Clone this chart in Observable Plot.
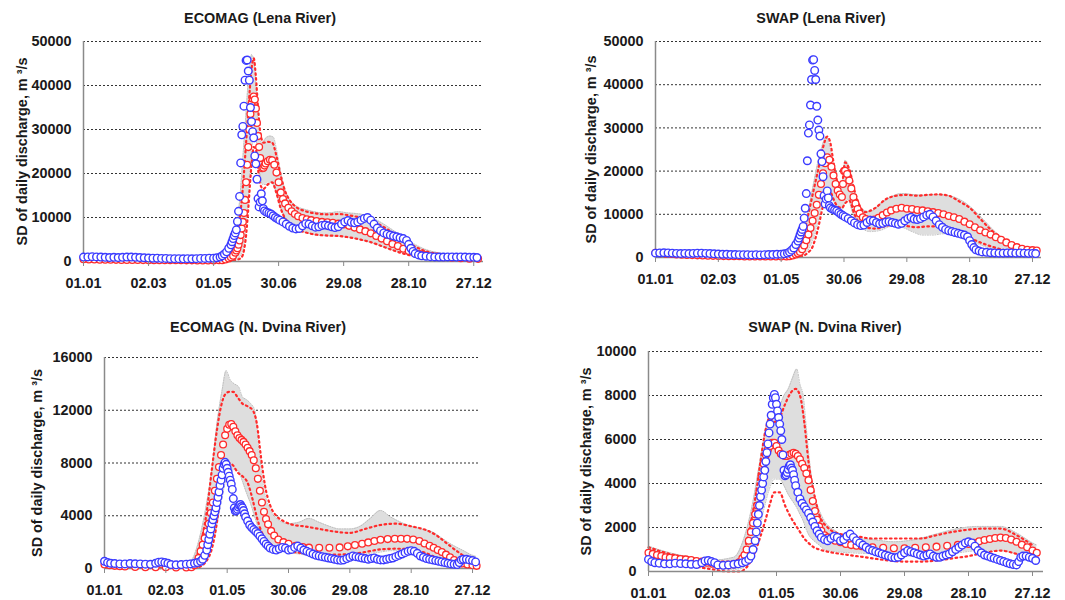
<!DOCTYPE html>
<html><head><meta charset="utf-8">
<script src="https://cdn.jsdelivr.net/npm/d3@7"></script>
<script src="https://cdn.jsdelivr.net/npm/@observablehq/plot@0.6"></script>
<style>
body{margin:0;background:#fff;font-family:"Liberation Sans",Arial,sans-serif;}
#wrap{position:relative;width:1065px;height:600px;overflow:hidden;background:#fff;}
.title{position:absolute;font-weight:bold;font-size:14.4px;line-height:14.4px;white-space:nowrap;transform:translateX(-50%);color:#1a1a1a;}
</style></head><body><div id="wrap"></div>
<script>
// ---- x axis (day of year, 0 = 01.01) ----
const dateTicks = [0, 60, 120, 180, 240, 300, 360];
const dateLabels = ["01.01", "02.03", "01.05", "30.06", "29.08", "28.10", "27.12"];
const yTicksLena = [0, 10000, 20000, 30000, 40000, 50000];
const yTicksDvinaEco = [0, 4000, 8000, 12000, 16000];
const yTicksDvinaSwap = [0, 2000, 4000, 6000, 8000, 10000];
const yLabel = "SD of daily discharge, m \u00B3/s";

// ---- observed SD (blue circles), [day, value] ----
const obsLena = [[0,1000],[4,1050],[8,1100],[12,1050],[16,1000],[20,950],[24,900],[28,950],[32,900],[36,950],[40,1000],[44,1000],[48,950],[52,900],[56,850],[60,800],[64,750],[68,750],[72,700],[76,700],[80,650],[84,650],[88,650],[92,600],[96,650],[100,600],[104,650],[108,700],[112,700],[116,750],[120,750],[123,850],[126,1000],[128,1300],[130,1700],[132,2200],[134,3000],[136,3800],[137,4500],[138,5200],[139,5900],[140,6500],[141,7200],[142,9100],[143,11400],[144,14800],[145,22400],[146,28800],[147,30700],[148,35300],[149,41200],[150,45700],[151,45800],[152,43300],[153,41200],[154,35000],[155,31800],[156,29500],[157,28100],[158,24000],[159,22200],[160,18700],[161,14300],[162,12400],[163,13500],[164,15400],[165,13800],[166,12000],[167,11500],[169,11200],[171,11000],[173,10800],[175,10400],[177,10000],[179,9700],[181,9400],[184,9000],[187,8500],[190,8000],[193,7600],[196,7400],[199,7500],[202,8100],[205,8600],[208,8500],[211,8100],[214,7800],[217,7900],[220,8200],[223,8300],[226,8100],[229,7900],[232,7700],[235,7900],[238,8500],[241,9000],[244,9300],[247,8900],[250,8800],[253,9000],[256,9400],[259,9800],[262,10000],[265,9400],[268,8500],[271,7600],[274,7000],[277,6500],[280,6200],[283,6000],[286,5800],[289,5600],[292,5400],[295,5200],[298,4800],[300,3900],[302,3000],[304,2300],[306,1800],[309,1500],[312,1300],[316,1200],[320,1100],[324,1050],[328,1000],[332,1000],[336,1050],[340,1050],[344,1000],[348,1050],[352,1000],[356,950],[360,950],[363,900]];

const obsDvina = [[0,550],[3,450],[6,400],[10,380],[15,350],[20,350],[25,380],[30,360],[35,350],[40,330],[45,320],[50,400],[53,480],[56,500],[59,450],[62,400],[65,300],[70,280],[75,300],[80,330],[84,350],[88,400],[91,450],[94,550],[96,700],[98,1000],[100,1400],[101,1800],[102,2200],[103,2600],[104,3000],[105,3400],[106,3700],[107,4000],[108,4300],[109,4600],[110,5000],[111,5400],[112,5800],[113,6300],[114,6700],[115,7100],[116,7600],[117,7900],[118,8050],[119,7900],[120,7600],[121,7300],[122,7000],[123,6700],[124,6400],[125,6000],[126,5300],[127,4600],[128,4350],[129,4400],[130,4500],[131,4650],[132,4800],[133,4850],[134,4700],[135,4600],[136,4400],[137,4150],[138,3900],[140,3600],[142,3300],[144,3100],[146,2950],[148,2800],[150,2650],[152,2450],[154,2250],[156,2050],[158,1850],[160,1700],[162,1550],[165,1450],[168,1400],[171,1500],[174,1600],[177,1550],[180,1400],[183,1450],[186,1600],[189,1700],[192,1550],[195,1400],[198,1300],[201,1200],[204,1100],[207,1000],[210,950],[213,900],[216,850],[219,800],[222,750],[225,700],[228,650],[231,620],[234,650],[237,750],[240,850],[243,950],[246,900],[249,850],[252,800],[255,750],[258,700],[261,750],[264,800],[267,700],[270,650],[273,650],[276,700],[279,750],[282,800],[285,900],[288,1000],[291,1100],[294,1200],[297,1300],[300,1350],[303,1300],[306,1150],[309,950],[312,850],[315,750],[318,700],[321,650],[324,600],[327,550],[330,500],[333,450],[336,400],[339,350],[342,320],[345,300],[347,450],[349,650],[351,700],[354,700],[357,650],[360,600],[363,500]];

// ---- ensemble mean SD (red circles), [day, value] ----
const meanEcoLena = [[0,500],[5,470],[10,450],[15,420],[20,400],[25,390],[30,380],[35,360],[40,350],[45,340],[50,330],[55,320],[60,300],[65,300],[70,300],[75,290],[80,280],[85,275],[90,270],[95,265],[100,260],[105,255],[110,250],[115,250],[120,250],[125,270],[128,300],[131,450],[134,700],[136,950],[138,1300],[140,2000],[141,2500],[142,3000],[143,3800],[144,4800],[145,6000],[146,7500],[147,9000],[148,11000],[149,14000],[150,18000],[151,22000],[152,26000],[153,30000],[154,33500],[155,35800],[156,37000],[157,37500],[158,36800],[159,34800],[160,31500],[161,28500],[162,26000],[163,23500],[164,22000],[165,21200],[166,21300],[167,21800],[168,22300],[170,22800],[172,23100],[174,23000],[176,22000],[178,20200],[180,18000],[182,15700],[184,14200],[186,13200],[189,12200],[192,11400],[195,10800],[198,10300],[202,9900],[206,9600],[210,9400],[215,9200],[220,9000],[225,8900],[230,8800],[235,8600],[240,8400],[245,8100],[250,7700],[255,7300],[260,6900],[265,6400],[270,5800],[275,5200],[280,4600],[285,4000],[290,3500],[295,2900],[300,2400],[305,2000],[310,1700],[315,1450],[320,1250],[326,1100],[332,950],[340,850],[348,750],[356,650],[364,600]];

const meanSwapLena = [[0,1100],[5,1000],[10,900],[15,800],[20,700],[25,650],[30,600],[35,550],[40,500],[45,450],[50,400],[55,380],[60,350],[65,320],[70,300],[75,290],[80,280],[85,260],[90,250],[95,240],[100,230],[105,220],[110,220],[115,220],[120,230],[125,260],[128,300],[131,450],[134,700],[136,950],[138,1300],[140,1900],[142,2800],[144,4000],[146,5300],[148,6800],[150,8500],[152,10300],[154,12200],[156,14500],[158,17000],[160,19500],[162,21800],[164,23200],[166,22600],[168,21000],[170,19000],[172,17000],[174,15500],[176,14600],[178,14000],[179,17000],[180,20000],[181,20100],[183,19300],[185,17800],[187,16000],[189,14000],[191,12500],[193,11200],[195,10200],[198,9300],[201,8900],[205,8700],[209,8800],[213,9200],[217,9800],[221,10400],[225,10900],[230,11300],[235,11500],[240,11300],[245,11200],[250,11000],[255,10900],[260,10700],[265,10500],[270,10300],[275,10000],[280,9600],[285,9300],[290,8900],[295,8300],[300,7700],[305,7000],[310,6300],[315,5800],[320,5300],[325,4700],[330,4100],[335,3500],[340,2900],[345,2400],[350,2000],[355,1800],[360,1700],[364,1600]];

const meanEcoDvina = [[0,300],[5,250],[10,200],[15,170],[20,150],[30,120],[40,100],[50,100],[60,90],[70,80],[80,80],[85,100],[88,250],[90,450],[92,800],[94,1300],[96,1800],[98,2300],[100,2800],[102,3400],[104,4200],[106,5000],[108,5900],[110,6800],[112,7700],[114,8600],[116,9400],[118,10100],[120,10600],[122,10900],[124,10950],[126,10750],[128,10400],[130,10100],[132,9900],[134,9750],[136,9600],[138,9400],[140,9150],[142,8900],[144,8600],[146,8200],[148,7600],[150,6800],[152,5900],[154,5000],[156,4300],[158,3750],[160,3350],[163,2850],[166,2500],[170,2200],[175,2000],[180,1870],[187,1720],[194,1630],[200,1580],[210,1570],[220,1570],[230,1600],[238,1680],[245,1780],[252,1880],[258,1980],[264,2080],[270,2180],[277,2230],[284,2260],[290,2260],[296,2250],[302,2200],[308,2080],[313,1900],[318,1720],[322,1570],[326,1400],[330,1250],[334,1050],[338,850],[342,650],[346,480],[350,380],[355,300],[360,250],[364,200]];

const meanSwapDvina = [[0,850],[4,800],[8,750],[12,700],[16,650],[20,620],[25,600],[30,570],[35,550],[40,520],[45,480],[50,450],[55,400],[60,350],[65,300],[70,270],[75,280],[80,320],[85,420],[88,600],[90,750],[92,1000],[94,1400],[96,1800],[98,2200],[100,2600],[102,3000],[104,3600],[106,4300],[108,4900],[110,5300],[112,5550],[114,5700],[116,5850],[118,5850],[120,5700],[122,5500],[124,5350],[126,5300],[128,5250],[130,5250],[132,5300],[134,5350],[136,5400],[138,5350],[140,5250],[142,5100],[144,4900],[146,4700],[148,4450],[150,4150],[152,3700],[154,3200],[156,2750],[158,2350],[160,2050],[162,1850],[165,1650],[168,1550],[171,1480],[175,1400],[180,1330],[185,1250],[190,1200],[195,1170],[200,1150],[210,1100],[220,1080],[230,1060],[240,1060],[250,1080],[260,1100],[270,1130],[280,1170],[290,1210],[300,1250],[305,1300],[310,1370],[315,1430],[320,1480],[325,1520],[330,1540],[335,1520],[340,1450],[345,1350],[350,1220],[355,1100],[360,950],[364,850]];

// ---- ensemble spread (grey band), [day, low, high] ----
const bandEcoLena = [[0,100,1300],[30,100,1200],[60,80,1000],[90,60,900],[120,60,900],[130,150,1800],[135,300,3000],[140,500,6000],[143,900,11000],[146,2000,20000],[148,4000,27000],[150,9000,34000],[152,15000,41000],[154,22000,45500],[155,25000,47000],[157,29000,46000],[159,28000,40000],[161,24000,32000],[163,19500,27500],[165,17500,27000],[168,17500,28000],[172,18000,28500],[175,17500,28300],[178,15500,25500],[181,13000,21500],[184,11000,18000],[188,9300,15000],[192,8300,13500],[197,7400,12500],[205,6600,11800],[215,6000,11200],[225,5800,11000],[235,5700,11300],[245,5500,11000],[255,5000,10800],[265,4300,10000],[275,3500,8800],[285,2600,7200],[295,1900,5600],[305,1200,4000],[315,800,2800],[325,600,2100],[340,400,1600],[355,300,1300],[364,250,1200]];
const bandSwapLena = [[0,700,1500],[30,400,1000],[60,200,700],[90,150,550],[120,100,500],[130,150,900],[135,300,2000],[140,500,5000],[145,1500,10000],[150,4000,16000],[155,8000,22000],[160,13000,26500],[163,15000,28000],[166,15000,26000],[170,13000,21000],[174,11500,17500],[178,11000,17000],[181,13000,22500],[184,13500,21500],[188,10500,17500],[192,8500,13800],[197,6800,11200],[205,6000,10600],[215,6300,12500],[225,7200,14000],[235,7000,14800],[245,6000,14600],[255,5200,14400],[265,5200,14600],[275,5500,14500],[285,5400,14000],[295,4500,12800],[305,3500,10800],[315,2500,8300],[325,1800,5800],[335,1200,4000],[345,900,2800],[355,800,2100],[364,800,1800]];
const bandEcoDvina = [[0,100,700],[30,30,450],[60,20,450],[85,20,650],[90,50,1500],[95,200,3000],[100,700,5000],[105,1800,7500],[110,3400,11000],[115,5400,13500],[119,6800,15000],[123,7400,14300],[127,7500,14000],[131,7400,13800],[135,6600,13000],[139,5700,12800],[143,4900,12500],[147,3900,12000],[151,3000,9000],[156,2400,6000],[162,1900,4500],[170,1500,3700],[180,1250,3400],[190,1100,3500],[200,1000,3800],[210,950,3500],[220,900,3200],[230,950,3000],[240,1000,3000],[250,1050,3200],[260,1150,3800],[270,1250,4400],[280,1350,3900],[290,1350,3500],[300,1300,3200],[310,1100,3000],[320,900,2800],[330,600,2300],[340,350,1800],[350,200,1400],[360,150,1000],[364,130,900]];
const bandSwapDvina = [[0,500,1150],[20,350,850],[40,280,650],[60,180,520],[80,100,650],[88,150,1300],[93,400,2100],[98,900,3200],[103,1700,4600],[108,2800,6000],[113,3700,7000],[118,4200,7000],[123,4200,7500],[127,3900,8000],[131,3500,8300],[135,3200,8800],[139,2900,9200],[142,2600,8500],[145,2300,8000],[148,1900,6500],[151,1600,5000],[155,1400,3600],[160,1200,2800],[165,1000,2300],[175,900,1850],[190,850,1550],[210,800,1450],[230,700,1350],[250,700,1450],[270,750,1700],[290,850,1950],[310,950,2050],[330,950,2050],[345,800,1750],[360,600,1300],[364,550,1200]];

// ---- red dotted bounds, [day, lower, upper] ----
const boundsEcoLena = [[0,250,800],[60,150,500],[120,150,500],[135,200,2200],[140,300,4500],[143,500,8000],[146,1000,14000],[148,2500,20000],[150,6000,27000],[152,12000,34000],[154,19000,41000],[156,24500,45500],[157,26000,46200],[159,25500,42000],[161,21000,35000],[163,17500,29500],[166,16500,27000],[170,17500,27200],[174,18000,27000],[178,15500,24000],[182,12000,19500],[186,9800,16000],[190,8600,14000],[195,7600,12600],[205,6600,11400],[215,6100,10900],[225,5900,10700],[235,5800,10800],[245,5500,10500],[255,5000,10000],[265,4400,9300],[275,3500,8100],[285,2600,6600],[295,1800,5000],[305,1200,3500],[315,800,2400],[325,600,1800],[340,450,1300],[364,300,900]];
const boundsSwapLena = [[0,600,1400],[30,350,900],[60,150,600],[90,100,450],[120,80,400],[130,120,800],[135,200,1500],[140,300,4000],[145,1000,9000],[150,2500,14500],[155,6500,20000],[160,12000,25500],[164,15500,28000],[167,15200,26500],[170,13500,22000],[174,11800,17500],[178,11500,17000],[181,12500,22000],[185,13200,20500],[190,10000,15500],[195,7800,12000],[200,7000,10500],[210,6700,11500],[220,7300,13500],[230,7800,14300],[240,7300,14500],[250,7000,14300],[260,7200,14500],[270,7200,14600],[280,6500,14300],[290,5500,13000],[300,4500,11500],[310,3500,9000],[320,2600,6500],[330,1900,4600],[340,1300,3200],[350,1000,2300],[360,900,1800]];
const boundsEcoDvina = [[0,150,500],[30,50,300],[60,30,250],[85,30,300],[90,60,900],[95,200,2200],[100,600,4300],[105,1500,7500],[110,3500,10500],[114,6000,12300],[118,7500,13200],[122,8000,13400],[126,7800,13400],[130,7300,13000],[135,7000,12500],[140,6500,12300],[145,5200,12000],[149,3900,11000],[153,2900,8500],[157,2300,6300],[162,1900,4800],[168,1600,4000],[175,1400,3600],[185,1250,3300],[195,1150,3200],[210,1050,3000],[225,1050,2800],[240,1100,2700],[255,1250,3000],[270,1450,3300],[285,1500,3400],[300,1450,3200],[315,1150,2900],[325,800,2500],[335,450,1900],[345,250,1300],[355,120,800],[362,80,600]];
const boundsSwapDvina = [[0,500,1100],[20,350,800],[40,250,600],[60,100,450],[75,0,450],[85,0,550],[90,100,1000],[95,400,2000],[100,900,3300],[105,1600,5000],[110,2400,6500],[114,3100,7000],[118,3600,6800],[123,3600,7000],[128,3000,7600],[133,2500,8100],[138,2100,8300],[142,1800,8000],[146,1500,6800],[150,1300,5000],[155,1100,3600],[160,1000,2600],[168,900,2000],[180,800,1700],[195,700,1600],[210,600,1500],[225,500,1500],[240,450,1500],[255,450,1500],[270,500,1650],[285,600,1800],[300,700,1900],[315,850,1950],[330,950,1950],[345,800,1650],[360,550,1200]];

// ---- panel layout ----
const panels = [
  {title:"ECOMAG (Lena River)", tx:260, ty:10.5, left:0, top:28, width:530, height:272, ml:83, mr:47, mt:13, mb:39, xmax:369, yTicks:yTicksLena, labelOffset:66.5, obs:obsLena, mean:meanEcoLena, band:bandEcoLena, bounds:boundsEcoLena},
  {title:"SWAP (Lena River)", tx:821, ty:10.5, left:530, top:28, width:535, height:272, ml:125, mr:24, mt:13, mb:43, xmax:368.6, yTicks:yTicksLena, labelOffset:70, obs:obsLena, mean:meanSwapLena, band:bandSwapLena, bounds:boundsSwapLena},
  {title:"ECOMAG (N. Dvina River)", tx:258, ty:320, left:0, top:340, width:530, height:260, ml:104, mr:50, mt:17, mb:32, xmax:367.8, yTicks:yTicksDvinaEco, labelOffset:72.5, obs:obsDvina, mean:meanEcoDvina, band:bandEcoDvina, bounds:boundsEcoDvina},
  {title:"SWAP (N. Dvina River)", tx:825, ty:320, left:530, top:340, width:535, height:260, ml:118, mr:22, mt:11, mb:29, xmax:370.3, yTicks:yTicksDvinaSwap, labelOffset:68, obs:obsDvina, mean:meanSwapDvina, band:bandSwapDvina, bounds:boundsSwapDvina}
];

const wrap = document.getElementById("wrap");
const pts = a => a.map(([d, v]) => ({d, v}));
const rng = a => a.map(([d, lo, hi]) => ({d, lo, hi}));
const RED = "#ff2b2b", BLUE = "#3b3bff";

for (const p of panels) {
  const t = document.createElement("div");
  t.className = "title";
  t.textContent = p.title;
  t.style.left = p.tx + "px";
  t.style.top = p.ty + "px";
  wrap.appendChild(t);

  const band = rng(p.band), bounds = rng(p.bounds);
  const ymax = p.yTicks[p.yTicks.length - 1];
  const svg = Plot.plot({
    width: p.width, height: p.height,
    marginLeft: p.ml, marginRight: p.mr, marginTop: p.mt, marginBottom: p.mb,
    style: {fontFamily: "'Liberation Sans', Arial, sans-serif", fontSize: "14.4px", fontWeight: "bold", background: "transparent", overflow: "visible", color: "#1a1a1a"},
    x: {type: "linear", domain: [0, p.xmax]},
    y: {type: "linear", domain: [0, ymax]},
    marks: [
      Plot.ruleY(p.yTicks.filter(v => v > 0), {stroke: "#333", strokeWidth: 1, strokeDasharray: "2,2"}),
      Plot.areaY(band, {x: "d", y1: "lo", y2: "hi", fill: "#dedede", curve: "monotone-x"}),
      Plot.line(band, {x: "d", y: "hi", stroke: "#bdbdbd", strokeWidth: 1, strokeDasharray: "1,1.5", curve: "monotone-x"}),
      Plot.line(band, {x: "d", y: "lo", stroke: "#bdbdbd", strokeWidth: 1, strokeDasharray: "1,1.5", curve: "monotone-x"}),
      Plot.line(bounds, {x: "d", y: "hi", stroke: RED, strokeWidth: 2.2, strokeDasharray: "1.6,3.4", curve: "monotone-x"}),
      Plot.line(bounds, {x: "d", y: "lo", stroke: RED, strokeWidth: 2.2, strokeDasharray: "1.6,3.4", curve: "monotone-x"}),
      Plot.ruleY([0], {stroke: "#8a8a8a", strokeWidth: 1.5}),
      Plot.ruleX([0], {stroke: "#8a8a8a", strokeWidth: 1.5}),
      Plot.dot(pts(p.mean), {x: "d", y: "v", r: 3.4, stroke: RED, strokeWidth: 1.3, fill: "white"}),
      Plot.dot(pts(p.obs), {x: "d", y: "v", r: 3.8, stroke: BLUE, strokeWidth: 1.4, fill: "white"}),
      Plot.axisX({ticks: dateTicks, tickFormat: d => dateLabels[dateTicks.indexOf(d)], tickSize: 5, tickPadding: 11.5, stroke: "#8a8a8a", fill: "#1a1a1a", label: null}),
      Plot.axisY({ticks: p.yTicks, tickFormat: d => String(d), tickSize: 0, tickPadding: 12, fill: "#1a1a1a",
        label: yLabel, labelAnchor: "center", labelArrow: "none", labelOffset: p.labelOffset})
    ]
  });
  svg.style.position = "absolute";
  svg.style.left = p.left + "px";
  svg.style.top = p.top + "px";
  wrap.appendChild(svg);
}
</script>
</body></html>
